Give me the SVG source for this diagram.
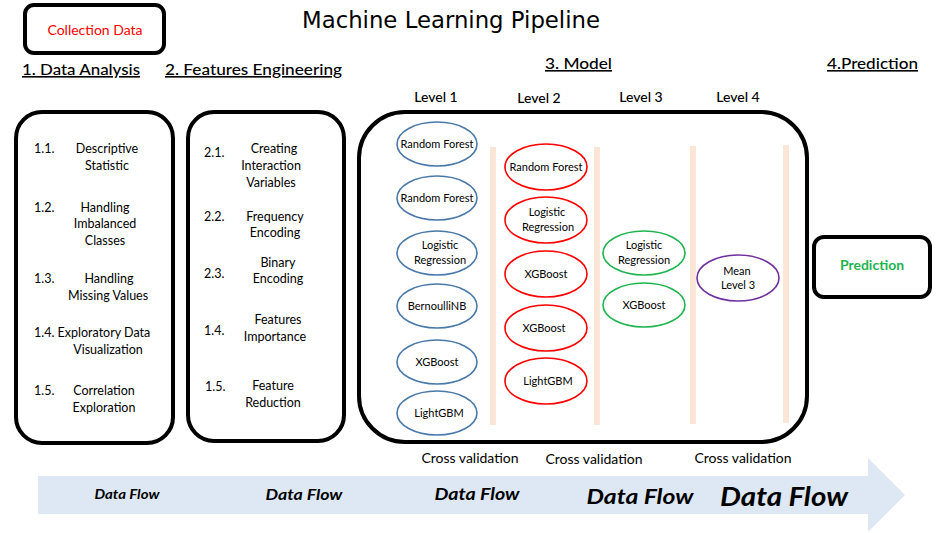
<svg xmlns="http://www.w3.org/2000/svg" width="939" height="533" viewBox="0 0 939 533">
<defs>
<style>
text{font-family:Lato,"Open Sans","Liberation Sans",sans-serif;fill:#000}
.box{fill:#fff;stroke:#000;stroke-width:4}
.h{font-size:16px;text-decoration:underline;font-weight:500}
.lv{font-size:14px;font-weight:500}
.it{font-size:12.5px;text-anchor:middle}
.num{font-size:12.5px}
.e{fill:#fff;stroke-width:1.6}
.b{stroke:#4a78a8}.r{stroke:#ff0000}.g{stroke:#1fb44f}.p{stroke:#7030a0}
.et{font-size:11px;text-anchor:middle}
.bar{fill:#fbe5d6}
.cv{font-size:14px;text-anchor:middle}
.df{font-weight:bold;font-style:italic;text-anchor:middle}
</style>
</defs>
<rect width="939" height="533" fill="#fff"/>
<g id="title"><text x="451" y="28" text-anchor="middle" style="font-family:'DejaVu Sans',sans-serif;font-size:23px" textLength="298" lengthAdjust="spacingAndGlyphs">Machine Learning Pipeline</text></g>
<g id="collection"><rect class="box" x="25" y="5" width="139" height="48" rx="9"/><text x="95" y="35" text-anchor="middle" style="font-size:14px;fill:#ff0000">Collection Data</text></g>
<g id="headings">
<text class="h" x="22" y="75" textLength="118" lengthAdjust="spacingAndGlyphs">1. Data Analysis</text>
<text class="h" x="165" y="75" textLength="177" lengthAdjust="spacingAndGlyphs">2. Features Engineering</text>
<text class="h" x="545" y="69" textLength="67" lengthAdjust="spacingAndGlyphs">3. Model</text>
<text class="h" x="827" y="69" textLength="91" lengthAdjust="spacingAndGlyphs">4.Prediction</text>
<text class="lv" x="436" y="102" text-anchor="middle">Level 1</text>
<text class="lv" x="539" y="103" text-anchor="middle">Level 2</text>
<text class="lv" x="641" y="102" text-anchor="middle">Level 3</text>
<text class="lv" x="738" y="102" text-anchor="middle">Level 4</text>
</g>
<g id="data-analysis">
<rect class="box" x="16" y="112" width="157" height="331" rx="26"/>
<text class="num" x="34" y="153">1.1.</text><text class="it" x="107" y="153">Descriptive</text><text class="it" x="107" y="170">Statistic</text>
<text class="num" x="34" y="212">1.2.</text><text class="it" x="105" y="212">Handling</text><text class="it" x="105" y="228">Imbalanced</text><text class="it" x="105" y="245">Classes</text>
<text class="num" x="34" y="283">1.3.</text><text class="it" x="109" y="283">Handling</text><text class="it" x="108" y="300">Missing Values</text>
<text class="num" x="34" y="337">1.4. Exploratory Data</text><text class="it" x="108" y="354">Visualization</text>
<text class="num" x="34" y="395">1.5.</text><text class="it" x="104" y="395">Correlation</text><text class="it" x="104" y="412">Exploration</text>
</g>
<g id="features-engineering">
<rect class="box" x="188" y="112" width="156" height="329" rx="26"/>
<text class="num" x="204" y="157">2.1.</text><text class="it" x="274" y="153">Creating</text><text class="it" x="271" y="170">Interaction</text><text class="it" x="271" y="187">Variables</text>
<text class="num" x="204" y="221">2.2.</text><text class="it" x="275" y="221">Frequency</text><text class="it" x="275" y="237">Encoding</text>
<text class="num" x="204" y="278">2.3.</text><text class="it" x="278" y="267">Binary</text><text class="it" x="278" y="283">Encoding</text>
<text class="num" x="204" y="335">1.4.</text><text class="it" x="278" y="324">Features</text><text class="it" x="275" y="341">Importance</text>
<text class="num" x="205" y="391">1.5.</text><text class="it" x="273" y="390">Feature</text><text class="it" x="273" y="407">Reduction</text>
</g>
<g id="model">
<rect class="box" x="359" y="112" width="448" height="330" rx="46"/>
<rect class="bar" x="490" y="147" width="6" height="278"/>
<rect class="bar" x="594" y="147" width="6" height="278"/>
<rect class="bar" x="690" y="146" width="6" height="278"/>
<rect class="bar" x="783" y="145" width="6" height="278"/>
</g>
<g id="level1">
<ellipse class="e b" cx="437" cy="144" rx="40" ry="22"/><text class="et" x="437" y="148">Random Forest</text>
<ellipse class="e b" cx="437" cy="198" rx="40" ry="22"/><text class="et" x="437" y="202">Random Forest</text>
<ellipse class="e b" cx="437" cy="253" rx="40" ry="22"/><text class="et" x="440" y="249">Logistic</text><text class="et" x="440" y="264">Regression</text>
<ellipse class="e b" cx="437" cy="306" rx="40" ry="22"/><text class="et" x="437" y="310">BernoulliNB</text>
<ellipse class="e b" cx="437" cy="362" rx="40" ry="22"/><text class="et" x="437" y="366">XGBoost</text>
<ellipse class="e b" cx="437" cy="413" rx="40" ry="22"/><text class="et" x="439" y="417">LightGBM</text>
</g>
<g id="level2">
<ellipse class="e r" cx="546" cy="167" rx="41" ry="23"/><text class="et" x="546" y="171">Random Forest</text>
<ellipse class="e r" cx="546" cy="220" rx="41" ry="23"/><text class="et" x="547" y="216">Logistic</text><text class="et" x="548" y="231">Regression</text>
<ellipse class="e r" cx="546" cy="274" rx="41" ry="23"/><text class="et" x="546" y="278">XGBoost</text>
<ellipse class="e r" cx="546" cy="328" rx="41" ry="23"/><text class="et" x="544" y="332">XGBoost</text>
<ellipse class="e r" cx="546" cy="381" rx="41" ry="23"/><text class="et" x="548" y="385">LightGBM</text>
</g>
<g id="level3">
<ellipse class="e g" cx="644" cy="253" rx="41" ry="22"/><text class="et" x="644" y="249">Logistic</text><text class="et" x="644" y="264">Regression</text>
<ellipse class="e g" cx="644" cy="305" rx="41" ry="22"/><text class="et" x="644" y="309">XGBoost</text>
</g>
<g id="level4">
<ellipse class="e p" cx="738" cy="278" rx="41" ry="23"/><text class="et" x="737" y="275">Mean</text><text class="et" x="738" y="289">Level 3</text>
</g>
<g id="prediction"><rect class="box" x="814" y="237" width="116" height="60" rx="10"/><text x="872" y="270" text-anchor="middle" style="font-size:14px;fill:#1fb44f;font-weight:bold">Prediction</text></g>
<g id="cross-validation">
<text class="cv" x="470" y="463">Cross validation</text>
<text class="cv" x="594" y="464">Cross validation</text>
<text class="cv" x="743" y="463">Cross validation</text>
</g>
<g id="connectors">
<path d="M38 476 H868 V458 L905 495 L868 532 V514 H38 Z" fill="#dde8f4"/>
<text class="df" x="127" y="499" style="font-size:13px" textLength="65" lengthAdjust="spacingAndGlyphs">Data Flow</text>
<text class="df" x="304" y="500" style="font-size:15px" textLength="77" lengthAdjust="spacingAndGlyphs">Data Flow</text>
<text class="df" x="477" y="500" style="font-size:17px" textLength="85" lengthAdjust="spacingAndGlyphs">Data Flow</text>
<text class="df" x="640" y="504" style="font-size:21px" textLength="107" lengthAdjust="spacingAndGlyphs">Data Flow</text>
<text class="df" x="784" y="506" style="font-size:27px" textLength="128" lengthAdjust="spacingAndGlyphs">Data Flow</text>
</g>
</svg>
